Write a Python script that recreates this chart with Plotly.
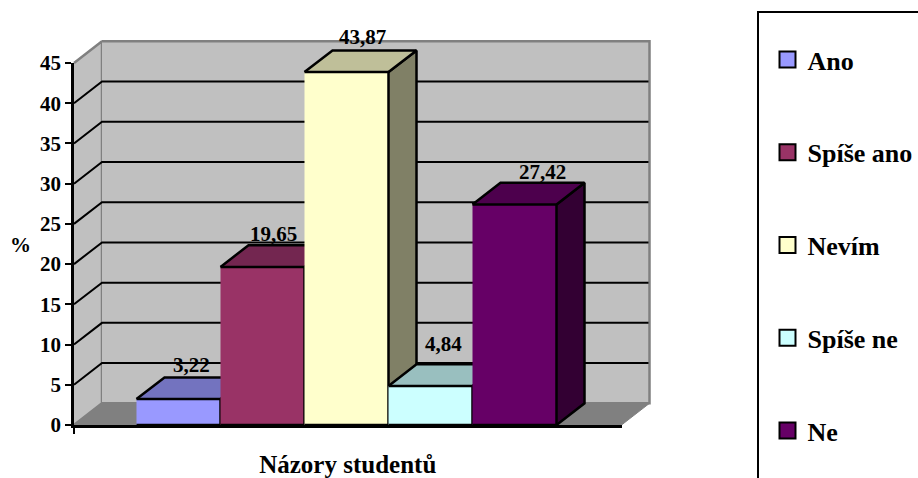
import plotly.graph_objects as go

categories = ["Ano", "Spíše ano", "Nevím", "Spíše ne", "Ne"]
values = [3.22, 19.65, 43.87, 4.84, 27.42]
value_labels = ["3,22", "19,65", "43,87", "4,84", "27,42"]
y_ticks = [0, 5, 10, 15, 20, 25, 30, 35, 40, 45]
front_colors = ["#9999FF", "#993366", "#FFFFCC", "#CCFFFF", "#660066"]
top_colors = ["#7373BF", "#732650", "#BFBF99", "#99BFBF", "#4D004D"]
side_colors = ["#4D4D80", "#4D1A33", "#808066", "#668080", "#330033"]
x_title = "Názory studentů"
y_title = "%"

FONT = "Liberation Serif"
W, H = 918, 478
# front plane of the 3-D box, in pixels
FL, FR, FT, FB = 74, 621.5, 63, 425
BAR_PX = 84.0
BAR0_PX = 136.5
UNIT_PX = (FB - FT) / 45
X_MIN = (FL - BAR0_PX) / BAR_PX
X_MAX = (FR - BAR0_PX) / BAR_PX
DX, DY = 28.0 / BAR_PX, 21.7 / UNIT_PX  # depth offset of back wall, in axis units
label_shift = [(13, 34), (10.5, 33), (16, 35), (12.5, 42), (28, 32)]


def px_x(px):
    return px / W


def px_y(py):
    return (H - py) / H


def poly(xs, ys, fill, line="black", width=2.5):
    return go.Scatter(x=xs, y=ys, mode="lines", fill="toself", fillcolor=fill,
                      line=dict(color=line, width=width), showlegend=False, hoverinfo="skip")


fig = go.Figure()

# walls and floor
fig.add_trace(poly([X_MIN, X_MIN + DX, X_MIN + DX, X_MIN], [0, DY, 45 + DY, 45], "#C0C0C0", "#808080", 2.5))
fig.add_trace(poly([X_MIN + DX, X_MAX + DX, X_MAX + DX, X_MIN + DX], [DY, DY, 45 + DY, 45 + DY], "#C0C0C0", "#808080", 2.5))
fig.add_trace(poly([X_MIN, X_MIN + DX, X_MAX + DX, X_MAX], [0, DY, DY, 0], "#808080", "#808080", 1))

# gridlines running over side wall and back wall
gx, gy = [], []
for t in y_ticks[1:-1]:
    gx += [X_MIN, X_MIN + DX, X_MAX + DX - 0.012, None]
    gy += [t, t + DY, t + DY, None]
fig.add_trace(go.Scatter(x=gx, y=gy, mode="lines", line=dict(color="black", width=2),
                         showlegend=False, hoverinfo="skip"))

# bars painted left to right
for i, v in enumerate(values):
    a, b = i, i + 1
    fig.add_trace(poly([b, b + DX, b + DX, b], [0, DY, v + DY, v], side_colors[i]))
    fig.add_trace(poly([a, a + DX, b + DX, b], [v, v + DY, v + DY, v], top_colors[i]))
    fig.add_trace(poly([a, b, b, a], [0, 0, v, v], front_colors[i]))

# legend entries
for i, c in enumerate(categories):
    fig.add_trace(go.Scatter(x=[None], y=[None], mode="markers", name=c, legendgroup=c,
                             marker=dict(symbol="square", size=16, color=front_colors[i],
                                         line=dict(color="black", width=2))))

# carrier of the visible axes
fig.add_trace(go.Scatter(x=[None], y=[None], xaxis="x2", yaxis="y2", mode="lines",
                         showlegend=False, hoverinfo="skip"))

annotations = [
    dict(x=i + 0.5, y=v, xref="x", yref="y", text=f"<b>{value_labels[i]}</b>", showarrow=False,
         xanchor="center", xshift=label_shift[i][0], yshift=label_shift[i][1],
         font=dict(family=FONT, size=21, color="black"))
    for i, v in enumerate(values)
]
annotations.append(dict(x=px_x(20), y=px_y(245), xref="paper", yref="paper", text=f"<b>{y_title}</b>",
                        xanchor="center", yanchor="middle", showarrow=False,
                        font=dict(family=FONT, size=21, color="black")))

hidden = dict(visible=False, showgrid=False, zeroline=False)
fig.update_layout(
    width=W, height=H, autosize=False,
    margin=dict(l=0, r=0, t=0, b=0, pad=0, autoexpand=False),
    paper_bgcolor="white", plot_bgcolor="rgba(0,0,0,0)",
    font=dict(family=FONT, color="black"),
    annotations=annotations,
    shapes=[dict(type="rect", xref="paper", yref="paper", x0=px_x(758), x1=px_x(960),
                 y0=px_y(520), y1=px_y(12), line=dict(color="black", width=2))],
    legend=dict(x=px_x(767.5), y=px_y(36), xanchor="left", yanchor="top", xref="paper", yref="paper",
                bgcolor="rgba(0,0,0,0)", borderwidth=0, itemsizing="trace", traceorder="grouped",
                maxheight=470, tracegroupgap=56,
                font=dict(family=FONT, size=26, weight=700, color="black")),
    showlegend=True,
    xaxis=dict(range=[-BAR0_PX / BAR_PX, (W - BAR0_PX) / BAR_PX], domain=[0, 1], **hidden),
    yaxis=dict(range=[(FB - H) / UNIT_PX, FB / UNIT_PX], domain=[0, 1], **hidden),
    xaxis2=dict(domain=[px_x(FL), px_x(FR)], anchor="y2", range=[X_MIN, X_MAX], showgrid=False,
                zeroline=False, showline=True, linecolor="black", linewidth=2.5, tickmode="array",
                tickvals=[X_MIN], ticktext=[" "], ticks="outside", ticklen=6, tickwidth=2,
                tickcolor="black", tickfont=dict(size=13),
                title=dict(text=x_title, font=dict(family=FONT, size=25, weight=700))),
    yaxis2=dict(domain=[px_y(FB), px_y(FT)], anchor="x2", range=[0, 45], showgrid=False,
                zeroline=False, showline=True, linecolor="black", linewidth=2.5, tickmode="array",
                tickvals=y_ticks, ticktext=[str(t) for t in y_ticks], ticks="outside", ticklen=6,
                tickwidth=2, tickcolor="black", tickfont=dict(family=FONT, size=21, weight=700)),
)

fig.write_html("out.html", config=dict(displayModeBar=False),
               post_script="document.body.style.margin='0';")
